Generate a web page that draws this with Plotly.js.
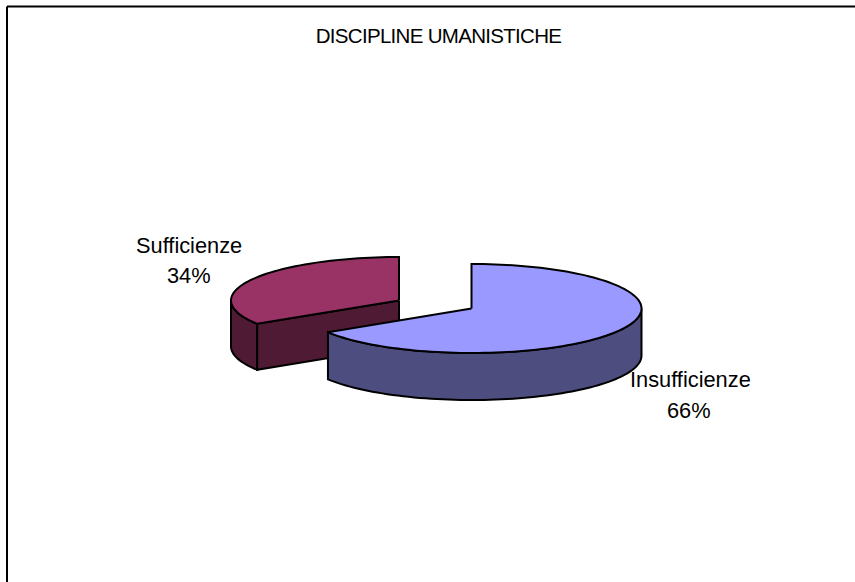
<!DOCTYPE html>
<html><head><meta charset="utf-8">
<script src="https://cdn.plot.ly/plotly-3.0.1.min.js"></script>
<style>html,body{margin:0;padding:0;background:#fff}#c{width:855px;height:582px}
.gtitle{letter-spacing:-0.7px}</style>
</head><body><div id="c"></div>
<script>
const chartTitle = "DISCIPLINE UMANISTICHE";
const categories = ["Insufficienze", "Sufficienze"];
const values = [66, 34];
const topColors = ["#9999ff", "#993366"];
const sideColors = ["#4d4d80", "#4f1a33"];

// projection of the tilted pie: each value becomes an arc of an ellipse
const total = values.reduce((a, b) => a + b, 0);
const geom = [
  {cx: 471.5, cy: 308.5, rx: 170, ry: 44.5, d: 47},
  {cx: 399, cy: 300.5, rx: 168, ry: 43.5, d: 46}
];
const pt = (g, deg, dz = 0) => {
  const t = deg * Math.PI / 180;
  return [g.cx + g.rx * Math.sin(t), g.cy - g.ry * Math.cos(t) + dz];
};
const arc = (g, a, b, dz = 0) => {
  const out = [], n = Math.max(2, Math.round(Math.abs(b - a) / 2));
  for (let i = 0; i <= n; i++) out.push(pt(g, a + (b - a) * i / n, dz));
  return out;
};
const poly = (points, color) => ({
  type: "scatter", mode: "lines", x: points.map(p => p[0]), y: points.map(p => p[1]),
  fill: "toself", fillcolor: color, line: {color: "#000", width: 2, simplify: false},
  hoverinfo: "skip", showlegend: false
});

const split = 360 * values[0] / total;
const traces = [];
// Sufficienze slice: outer rim, cut face, top
{
  const g = geom[1];
  const rimTop = arc(g, split, 270), rimBot = arc(g, split, 270, g.d).reverse();
  traces.push(poly(rimTop.concat(rimBot, [rimTop[0]]), sideColors[1]));
  const p = pt(g, split);
  traces.push(poly([[g.cx, g.cy], p, [p[0], p[1] + g.d], [g.cx, g.cy + g.d], [g.cx, g.cy]], sideColors[1]));
  traces.push(poly([[g.cx, g.cy]].concat(arc(g, split, 360), [[g.cx, g.cy]]), topColors[1]));
}
// Insufficienze slice: outer rim, top
{
  const g = geom[0];
  const rimTop = arc(g, 90, split), rimBot = arc(g, 90, split, g.d).reverse();
  traces.push(poly(rimTop.concat(rimBot, [rimTop[0]]), sideColors[0]));
  traces.push(poly([[g.cx, g.cy]].concat(arc(g, 0, split), [[g.cx, g.cy]]), topColors[0]));
}

const labelFont = {family: "Liberation Sans, Arial, sans-serif", size: 21.8, color: "#000"};
const pct = v => Math.round(v / total * 100) + "%";
const note = (x, y, text) => ({x, y, xref: "x", yref: "y", showarrow: false, font: labelFont, text});
const layout = {
  width: 855, height: 582,
  margin: {l: 0, r: 0, t: 0, b: 0},
  paper_bgcolor: "#fff", plot_bgcolor: "#fff",
  showlegend: false,
  title: {text: chartTitle, x: 438.5 / 855, xanchor: "center", y: 1 - 36 / 582, yanchor: "middle",
          font: {family: "Liberation Sans, Arial, sans-serif", size: 20.5, color: "#000"}},
  xaxis: {range: [0, 855], visible: false, fixedrange: true},
  yaxis: {range: [582, 0], visible: false, fixedrange: true},
  shapes: [
    {type: "line", xref: "x", yref: "y", x0: 7, x1: 855, y0: 6.5, y1: 6.5, line: {color: "#000", width: 2}},
    {type: "line", xref: "x", yref: "y", x0: 7, x1: 7, y0: 6.5, y1: 582, line: {color: "#000", width: 2}}
  ],
  annotations: [
    note(690, 379, categories[0]),
    note(689, 410, pct(values[0])),
    note(189, 245, categories[1]),
    note(189, 275, pct(values[1]))
  ]
};
Plotly.newPlot("c", traces, layout, {displayModeBar: false, staticPlot: true});
</script></body></html>
